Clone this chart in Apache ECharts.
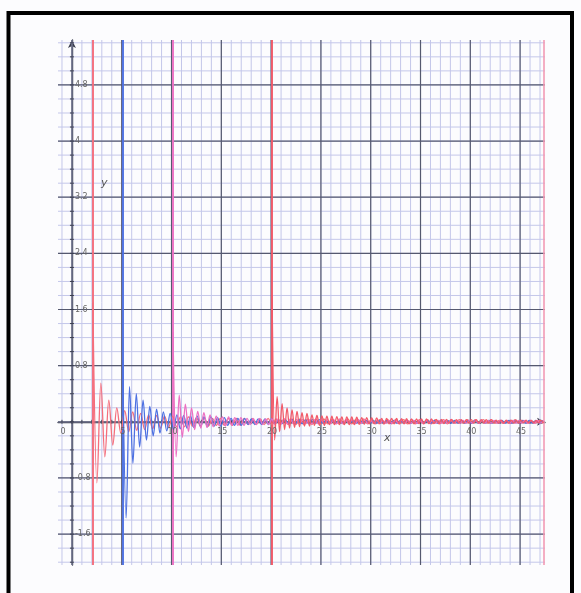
<!DOCTYPE html>
<html><head><meta charset="utf-8">
<script src="https://cdn.jsdelivr.net/npm/echarts/dist/echarts.min.js"></script>
<style>html,body{margin:0;padding:0;background:#fcfcfe}#c{width:581px;height:593px}</style>
</head><body><div id="c"></div>
<script>
// ---- data ----
const xTickLabels = [0, 5, 10, 15, 20, 25, 30, 35, 40, 45];
const yTickLabels = [-1.6, -0.8, 0.8, 1.6, 2.4, 3.2, 4, 4.8];

// Each curve: asymptote/start x, sampling step (half period), extreme values
const red1Start = 2.1, red1Step = 0.4;
const red1Values = [
  1.7,-0.87,0.55,-0.5,0.31,-0.33,0.2,-0.16,
  0.16,-0.14,0.14,-0.12,0.12,-0.11,0.1,-0.1,
  0.09,-0.09,0.08,-0.08,0.08,-0.07,0.07,-0.07,
  0.07,-0.06,0.06,-0.06,0.06,-0.06,0.05,-0.05,
  0.05,-0.05,0.05,-0.05,0.05,-0.05,0.05,-0.04,
  0.05,-0.04,0.04,-0.04,0.05,-0.04,0.04,-0.04,
  0.04,-0.04,0.04,-0.04,0.04,-0.04,0.04,-0.04,
  0.04,-0.04,0.04,-0.03,0.04,-0.03,0.04,-0.03,
  0.04,-0.03,0.03,-0.03,0.04,-0.03,0.03,-0.03,
  0.03,-0.03,0.03,-0.03,0.03,-0.03,0.03,-0.03,
  0.03,-0.03,0.03,-0.03,0.03,-0.03,0.03,-0.03,
  0.03,-0.03,0.03,-0.02,0.03,-0.02,0.03,-0.02,
  0.03,-0.02,0.03,-0.02,0.03,-0.02,0.02,-0.02,
  0.02,-0.02,0.03,-0.02,0.02,-0.02,0.02,-0.02,
  0.02,-0.02
];

const blueStart = 5.1, blueStep = 0.34;
const blueValues = [
  0.88,-1.37,0.5,-0.59,0.4,-0.36,0.31,-0.26,
  0.22,-0.2,0.18,-0.16,0.14,-0.13,0.12,-0.11,
  0.1,-0.1,0.09,-0.09,0.08,-0.08,0.08,-0.07,
  0.07,-0.07,0.07,-0.06,0.06,-0.06,0.06,-0.05,
  0.05,-0.05,0.05,-0.05,0.05,-0.04,0.04,-0.04,
  0.04,-0.04,0.04,-0.04,0.04,-0.03,0.03,-0.03,
  0.03,-0.03,0.03,-0.03,0.03,-0.03,0.03,-0.03,
  0.03,-0.02,0.03,-0.02,0.02,-0.02,0.02,-0.02,
  0.02,-0.02,0.02,-0.02,0.02,-0.02,0.02,-0.02,
  0.02,-0.02,0.02,-0.02,0.02,-0.02,0.02,-0.02,
  0.02,-0.02,0.02,-0.02,0.02,-0.02,0.02,-0.02,
  0.02,-0.02,0.02,-0.02,0.02,-0.02,0.02,-0.02,
  0.02,-0.02,0.02,-0.02,0.02,-0.02,0.02,-0.02,
  0.02,-0.02,0.02,-0.02,0.02,-0.02,0.02,-0.02,
  0.02,-0.02,0.02,-0.02,0.02,-0.02,0.02,-0.02,
  0.02,-0.02,0.02,-0.02,0.02
];

const magentaStart = 10.15, magentaStep = 0.31;
const magentaValues = [
  1.28,-0.5,0.38,-0.22,0.25,-0.14,0.2,-0.11,
  0.15,-0.09,0.13,-0.08,0.1,-0.07,0.08,-0.06,
  0.07,-0.06,0.07,-0.05,0.06,-0.05,0.06,-0.05,
  0.05,-0.04,0.05,-0.04,0.05,-0.04,0.04,-0.04,
  0.04,-0.04,0.04,-0.03,0.04,-0.03,0.04,-0.03,
  0.03,-0.03,0.03,-0.03,0.03,-0.03,0.03,-0.03,
  0.03,-0.03,0.03,-0.03,0.03,-0.03,0.03,-0.03,
  0.03,-0.03,0.03,-0.03,0.03,-0.02,0.03,-0.02,
  0.02,-0.02,0.02,-0.02,0.02,-0.02,0.02,-0.02,
  0.02,-0.02,0.02,-0.02,0.02,-0.02,0.02,-0.02,
  0.02,-0.02,0.02,-0.02,0.02,-0.02,0.02,-0.02,
  0.02,-0.02,0.02,-0.02,0.02,-0.02,0.02,-0.02,
  0.02,-0.02,0.02,-0.02,0.02,-0.02,0.02,-0.02,
  0.02,-0.02,0.02,-0.02,0.02,-0.02,0.02,-0.02,
  0.02,-0.02,0.02,-0.02,0.02,-0.02,0.02,-0.02,
  0.02
];

const red2Start = 20.1, red2Step = 0.25;
const red2Values = [
  1.8,-0.26,0.36,-0.14,0.26,-0.11,0.2,-0.09,
  0.17,-0.08,0.15,-0.07,0.13,-0.06,0.12,-0.06,
  0.1,-0.05,0.09,-0.05,0.085,-0.05,0.08,-0.04,
  0.08,-0.04,0.075,-0.04,0.07,-0.04,0.07,-0.04,
  0.07,-0.04,0.065,-0.035,0.06,-0.035,0.06,-0.03,
  0.06,-0.03,0.055,-0.03,0.05,-0.03,0.05,-0.03,
  0.05,-0.03,0.05,-0.03,0.045,-0.03,0.045,-0.03,
  0.04,-0.03,0.04,-0.025,0.04,-0.025,0.04,-0.025,
  0.04,-0.025,0.035,-0.025,0.035,-0.025,0.035,-0.02,
  0.035,-0.02,0.03,-0.02,0.03,-0.02,0.03,-0.02,
  0.03,-0.02,0.03,-0.02,0.03,-0.02,0.03,-0.02,
  0.03,-0.02,0.025,-0.02,0.025,-0.02,0.025,-0.02,
  0.025,-0.02,0.025,-0.02,0.025,-0.015,0.025,-0.015,
  0.02,-0.015,0.02,-0.015,0.02,-0.015
];

const edgeLineX = [47.4];

// ---- chart ----
const X_MIN = -1.4, X_MAX = 47.5, Y_MIN = -2.04, Y_MAX = 5.44;
const xMinor = []; for (let v = -1; v <= 47; v++) xMinor.push(v);
const yMinor = []; for (let k = -10; k <= 27; k++) yMinor.push(+(k * 0.2).toFixed(2));
const yMajor = yTickLabels.concat([0]);
const fontFam = 'DejaVu Sans, sans-serif';
const axisColor = '#3a3d4e';

function toPairs(start, step, values) {
  return values.map((v, i) => [+(start + i * step).toFixed(4), v]);
}

function gridLines(values, dir, color, width, z) {
  return {
    type: 'custom', silent: true, z: z || 1, clip: false,
    data: values.map(v => dir === 'v' ? [v, 0] : [0, v]),
    encode: { x: 0, y: 1 },
    renderItem: function (params, api) {
      const v = api.value(dir === 'v' ? 0 : 1);
      const p1 = dir === 'v' ? api.coord([v, Y_MIN]) : api.coord([X_MIN, v]);
      const p2 = dir === 'v' ? api.coord([v, Y_MAX]) : api.coord([X_MAX, v]);
      return { type: 'line', shape: { x1: p1[0], y1: p1[1], x2: p2[0], y2: p2[1] },
               style: { stroke: color, lineWidth: width } };
    }
  };
}

// small tick marks on the axis lines (through the origin)
function tickMarks(values, dir) {
  return {
    type: 'custom', silent: true, z: 4, clip: false,
    data: values.map(v => dir === 'x' ? [v, 0] : [0, v]),
    encode: { x: 0, y: 1 },
    renderItem: function (params, api) {
      const p = api.coord([api.value(0), api.value(1)]);
      const shape = dir === 'x'
        ? { x1: p[0], y1: p[1] - 2, x2: p[0], y2: p[1] + 2 }
        : { x1: p[0] - 2, y1: p[1], x2: p[0] + 2, y2: p[1] };
      return { type: 'line', shape: shape, style: { stroke: axisColor, lineWidth: 1 } };
    }
  };
}

// tick labels placed next to the axis lines
function tickLabels(values, dir) {
  return {
    type: 'custom', silent: true, z: 6, clip: false,
    data: values.map(v => dir === 'x' ? [v, 0] : [0, v]),
    encode: { x: 0, y: 1 },
    renderItem: function (params, api) {
      const xv = api.value(0), yv = api.value(1);
      const p = api.coord([xv, yv]);
      if (dir === 'x') {
        return { type: 'text', x: p[0] + (xv === 0 ? -9 : 1), y: p[1] + 6,
                 style: { text: String(xv), fill: '#666', font: '8px ' + fontFam,
                          textAlign: 'center', textVerticalAlign: 'top' } };
      }
      return { type: 'text', x: p[0] + 3, y: p[1],
               style: { text: String(yv), fill: '#666', font: '8px ' + fontFam,
                        textAlign: 'left', textVerticalAlign: 'middle' } };
    }
  };
}

function curve(name, start, step, values, color) {
  return {
    name: name, type: 'line', z: 5,
    data: toPairs(start, step, values),
    showSymbol: false, smooth: 0.35, smoothMonotone: 'x',
    lineStyle: { color: color, width: 1.3 },
    markLine: {
      silent: true, symbol: 'none', label: { show: false },
      lineStyle: { color: color, width: 1.9, type: 'solid', opacity: 1 },
      data: [{ xAxis: start }]
    }
  };
}

const minorColor = '#c4c7ea', majorColor = '#55596f';

const option = {
  backgroundColor: '#fcfcfe',
  animation: false,
  grid: { left: 58, right: 36, top: 40, bottom: 28 },
  xAxis: {
    type: 'value', min: X_MIN, max: X_MAX,
    splitLine: { show: false }, axisTick: { show: false }, axisLabel: { show: false },
    axisLine: { onZero: true, lineStyle: { color: axisColor, width: 1.4 },
                symbol: ['none', 'arrow'], symbolSize: [6, 8] }
  },
  yAxis: {
    type: 'value', min: Y_MIN, max: Y_MAX,
    splitLine: { show: false }, axisTick: { show: false }, axisLabel: { show: false },
    axisLine: { onZero: true, lineStyle: { color: axisColor, width: 1.4 },
                symbol: ['none', 'arrow'], symbolSize: [6, 8] }
  },
  series: [
    gridLines(xMinor, 'v', minorColor, 1, 1),
    gridLines(yMinor, 'h', minorColor, 1, 1),
    gridLines(xTickLabels, 'v', majorColor, 1.2, 2),
    gridLines(yMajor, 'h', majorColor, 1.2, 2),
    gridLines(edgeLineX, 'v', '#f29ab5', 1.6, 3),
    tickMarks(xMinor, 'x'),
    tickMarks(yMinor, 'y'),
    curve('f1', red1Start, red1Step, red1Values, '#f46e7c'),
    curve('f2', blueStart, blueStep, blueValues, '#4d71e2'),
    curve('f3', magentaStart, magentaStep, magentaValues, '#ec70c2'),
    curve('f4', red2Start, red2Step, red2Values, '#f25a68'),
    tickLabels(xTickLabels, 'x'),
    tickLabels(yTickLabels, 'y')
  ],
  graphic: [
    { type: 'rect', silent: true, z: 100,
      shape: { x: 8.5, y: 13, width: 563.5, height: 620 },
      style: { fill: 'none', stroke: '#000', lineWidth: 4 } },
    { type: 'text', left: 101, top: 178, z: 100,
      style: { text: 'y', fill: '#555', font: 'italic 11px ' + fontFam } },
    { type: 'text', left: 384, top: 433, z: 100,
      style: { text: 'x', fill: '#555', font: 'italic 11px ' + fontFam } }
  ]
};

const chart = echarts.init(document.getElementById('c'));
chart.setOption(option);
</script></body></html>
